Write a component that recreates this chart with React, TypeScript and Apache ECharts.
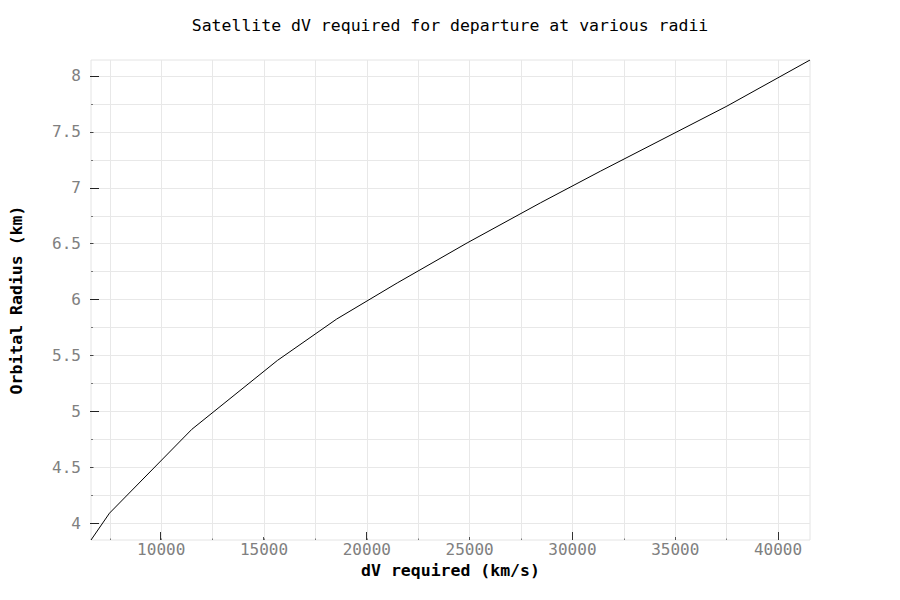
import React, { useEffect, useRef } from "react";
import * as echarts from "echarts";

// Data (dV required in km/s on x, orbital radius on y)
const dvRequired = [6586, 7485, 11491, 15653, 18533, 21480, 24880, 28440, 31355, 37509, 41554];
const orbitalRadius = [3.85, 4.09, 4.84, 5.456, 5.826, 6.149, 6.507, 6.865, 7.148, 7.73, 8.143];

// Axis ticks / labels
const xMinorTicks = [7500, 10000, 12500, 15000, 17500, 20000, 22500, 25000, 27500, 30000, 32500, 35000, 37500, 40000];
const xMidTicks = [10000, 15000, 20000, 25000, 30000, 35000, 40000];
const xMajorTicks = [10000, 20000, 30000, 40000];
const xLabels = [10000, 15000, 20000, 25000, 30000, 35000, 40000];

const yMinorTicks = [4, 4.25, 4.5, 4.75, 5, 5.25, 5.5, 5.75, 6, 6.25, 6.5, 6.75, 7, 7.25, 7.5, 7.75, 8];
const yMidTicks = [4, 4.5, 5, 5.5, 6, 6.5, 7, 7.5, 8];
const yMajorTicks = [4, 5, 6, 7, 8];
const yLabels = [4, 4.5, 5, 5.5, 6, 6.5, 7, 7.5, 8];

const X_MIN = 6586;
const X_MAX = 41554;
const Y_MIN = 3.85;
const Y_MAX = 8.143;

const FONT = "'DejaVu Sans Mono', 'Liberation Mono', monospace";

export default function App() {
  const ref = useRef<HTMLDivElement>(null);

  useEffect(() => {
    if (!ref.current) return;
    const chart = echarts.init(ref.current, null, { renderer: "svg" });

    const gridPos = { left: 90, right: 90, top: 60, bottom: 60 };

    const tickAxisX = (gridIndex: number, ticks: number[], len: number, color: string) => ({
      type: "value",
      gridIndex,
      min: X_MIN,
      max: X_MAX,
      position: "bottom",
      axisLine: { show: false },
      axisLabel: { show: false },
      splitLine: { show: false },
      axisTick: { show: true, inside: true, length: len, customValues: ticks, lineStyle: { color, width: 1 } },
    });
    const tickAxisY = (gridIndex: number, ticks: number[], len: number, color: string) => ({
      type: "value",
      gridIndex,
      min: Y_MIN,
      max: Y_MAX,
      position: "left",
      axisLine: { show: false },
      axisLabel: { show: false },
      splitLine: { show: false },
      axisTick: { show: true, inside: true, length: len, customValues: ticks, lineStyle: { color, width: 1 } },
    });

    chart.setOption({
      animation: false,
      backgroundColor: "#ffffff",
      title: {
        text: "Satellite dV required for departure at various radii",
        left: "center",
        top: 12,
        textStyle: { fontFamily: FONT, fontSize: 16.5, fontWeight: "normal", color: "#000000" },
      },
      grid: [
        { ...gridPos, show: true, borderColor: "#e4e4e4", borderWidth: 1, backgroundColor: "transparent" },
        { ...gridPos, show: false },
        { ...gridPos, show: false },
      ],
      xAxis: [
        {
          type: "value",
          gridIndex: 0,
          min: X_MIN,
          max: X_MAX,
          position: "bottom",
          name: "dV required (km/s)",
          nameLocation: "middle",
          nameGap: 23,
          nameMoveOverlap: false,
          nameTextStyle: { fontFamily: FONT, fontSize: 16.5, lineHeight: 14, fontWeight: "bold", color: "#000000" },
          axisLine: { show: false },
          axisTick: { show: true, inside: true, length: 1.5, customValues: xMinorTicks, lineStyle: { color: "#777777" } },
          splitLine: { show: true, lineStyle: { color: "#e8e8e8", width: 1 } },
          axisLabel: {
            customValues: xLabels,
            margin: 3,
            fontFamily: FONT,
            fontSize: 16,
            lineHeight: 13,
            color: "#808080",
            formatter: (v: number) => String(v),
          },
        },
        tickAxisX(1, xMidTicks, 3, "#555555"),
        tickAxisX(2, xMajorTicks, 8, "#333333"),
      ],
      yAxis: [
        {
          type: "value",
          gridIndex: 0,
          min: Y_MIN,
          max: Y_MAX,
          position: "left",
          name: "Orbital Radius (km)",
          nameLocation: "middle",
          nameGap: 66,
          nameMoveOverlap: false,
          nameTextStyle: { fontFamily: FONT, fontSize: 16.5, fontWeight: "bold", color: "#000000" },
          axisLine: { show: false },
          axisTick: { show: true, inside: true, length: 2, customValues: yMinorTicks, lineStyle: { color: "#777777" } },
          splitLine: { show: true, lineStyle: { color: "#e8e8e8", width: 1 } },
          axisLabel: {
            customValues: yLabels,
            margin: 10,
            fontFamily: FONT,
            fontSize: 16,
            color: "#808080",
            formatter: (v: number) => String(v),
          },
        },
        tickAxisY(1, yMidTicks, 3.5, "#444444"),
        tickAxisY(2, yMajorTicks, 9, "#222222"),
      ],
      series: [
        {
          type: "line",
          xAxisIndex: 0,
          yAxisIndex: 0,
          data: dvRequired.map((x, i) => [x, orbitalRadius[i]]),
          showSymbol: false,
          symbol: "none",
          lineStyle: { color: "#000000", width: 1 },
          itemStyle: { color: "#000000" },
          clip: true,
        },
      ],
    });

    return () => chart.dispose();
  }, []);

  return <div ref={ref} style={{ width: 900, height: 600, margin: -8 }} />;
}
